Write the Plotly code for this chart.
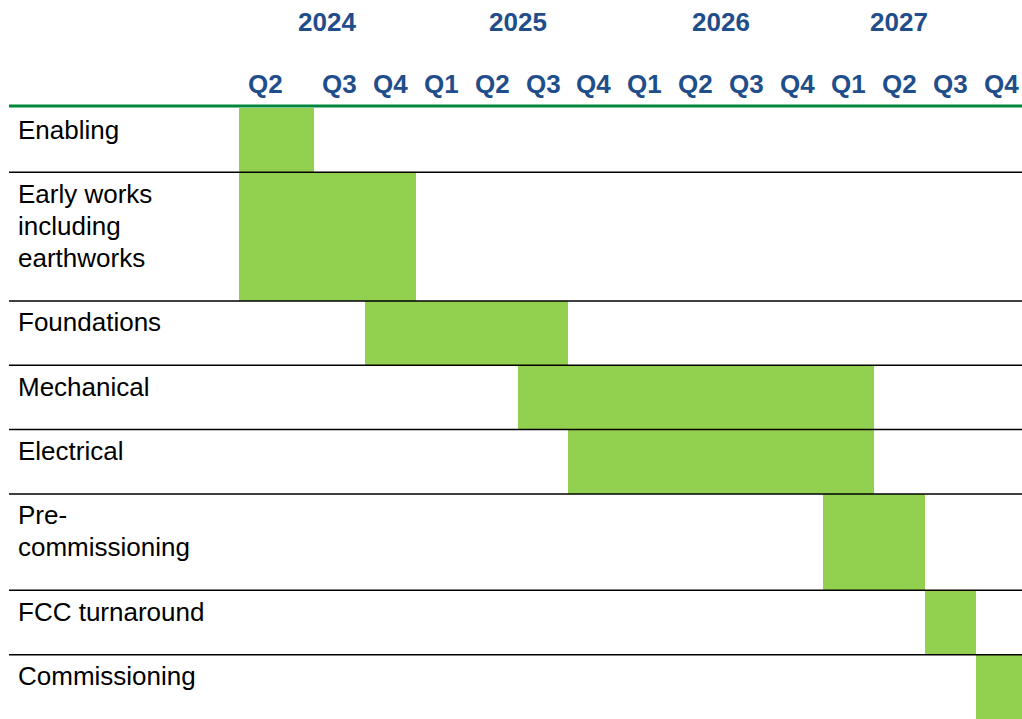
import plotly.graph_objects as go

# ---------------- data ----------------
tasks = ["Enabling", "Early works<br>including<br>earthworks", "Foundations", "Mechanical",
         "Electrical", "Pre-<br>commissioning", "FCC turnaround", "Commissioning"]
task_start = ["Q2 2024", "Q2 2024", "Q4 2024", "Q3 2025", "Q4 2025", "Q1 2027", "Q3 2027", "Q4 2027"]
task_end = ["Q2 2024", "Q4 2024", "Q3 2025", "Q1 2027", "Q1 2027", "Q2 2027", "Q3 2027", "Q4 2027"]
quarter_labels = ["Q2", "Q3", "Q4", "Q1", "Q2", "Q3", "Q4", "Q1", "Q2", "Q3", "Q4", "Q1", "Q2", "Q3", "Q4"]
quarter_years = [2024, 2024, 2024, 2025, 2025, 2025, 2025, 2026, 2026, 2026, 2026, 2027, 2027, 2027, 2027]
year_labels = ["2024", "2025", "2026", "2027"]

# ---------------- layout constants ----------------
W, H = 1022, 719
TOP = 108                     # plot-area top (px)
PLOT_H = H - TOP
FIRST_COL_W = 1.473           # first column is wider than one quarter
X_RANGE = [-6.169, 13.91]     # axis units: 1 unit = one quarter column
col_edges = [-FIRST_COL_W] + [k for k in range(len(quarter_labels))]
col_ids = [f"{q} {y}" for q, y in zip(quarter_labels, quarter_years)]
q_label_u = [(col_edges[i] + col_edges[i + 1]) / 2 for i in range(len(quarter_labels))]
q_label_u[0] = -0.955
year_label_u = [0.26, 4.0, 8.0, 11.5]

BLUE = "#1F4E8A"
GREEN_BAR = "#92D050"
GREEN_LINE = "#00873C"
FONT = "Liberation Sans, Arial, sans-serif"
LABEL_SIZE = 26
HEAD_SIZE = 26
LINE_PX = 32

# row heights: one unit per text line plus one
row_units = [t.count("<br>") + 2 for t in tasks]
row_tops = []
acc = 0
for u in row_units:
    row_tops.append(acc)
    acc += u
TOTAL = acc

starts, lengths, centers = [], [], []
for s, e, top, u in zip(task_start, task_end, row_tops, row_units):
    i0 = col_ids.index(s)
    i1 = col_ids.index(e) + 1
    starts.append(col_edges[i0])
    lengths.append(col_edges[i1] - col_edges[i0])
    centers.append(top + u / 2)

fig = go.Figure(go.Bar(
    orientation="h",
    y=centers,
    x=lengths,
    base=starts,
    width=row_units,
    marker=dict(color=GREEN_BAR, line=dict(width=0)),
    hoverinfo="skip",
    showlegend=False,
))

shapes = []
# top green rule
shapes.append(dict(type="line", xref="paper", yref="paper", x0=9 / W, x1=1,
                   y0=1 + 2 / PLOT_H, y1=1 + 2 / PLOT_H,
                   line=dict(color=GREEN_LINE, width=3), layer="above"))
# row separators
for top in row_tops[1:]:
    shapes.append(dict(type="line", xref="paper", yref="y", x0=9 / W, x1=1,
                       y0=top, y1=top, line=dict(color="black", width=1.5), layer="above"))

annotations = []
for t, top in zip(tasks, row_tops):
    for i, line in enumerate(t.split("<br>")):
        annotations.append(dict(text=line, xref="paper", yref="y", x=16 / W, y=top,
                                xanchor="left", yanchor="middle", align="left", showarrow=False,
                                yshift=-(21.5 + LINE_PX * i),
                                font=dict(family=FONT, size=LABEL_SIZE, color="black")))
for lab, u in zip(quarter_labels, q_label_u):
    annotations.append(dict(text=f"<b>{lab}</b>", xref="x", yref="paper", x=u,
                            y=1 + (TOP - 84.5) / PLOT_H, xanchor="center", yanchor="middle",
                            showarrow=False, font=dict(family=FONT, size=HEAD_SIZE, color=BLUE)))
for lab, u in zip(year_labels, year_label_u):
    annotations.append(dict(text=f"<b>{lab}</b>", xref="x", yref="paper", x=u,
                            y=1 + (TOP - 21.7) / PLOT_H, xanchor="center", yanchor="middle",
                            showarrow=False, font=dict(family=FONT, size=HEAD_SIZE, color=BLUE)))

fig.update_layout(
    width=W, height=H,
    margin=dict(l=0, r=0, t=TOP, b=0, pad=0),
    paper_bgcolor="white", plot_bgcolor="white",
    bargap=0,
    xaxis=dict(range=X_RANGE, visible=False, fixedrange=True),
    yaxis=dict(range=[TOTAL, 0], visible=False, fixedrange=True),
    shapes=shapes,
    annotations=annotations,
    hovermode=False,
)

fig.write_html("out.html", config={"displayModeBar": False})
